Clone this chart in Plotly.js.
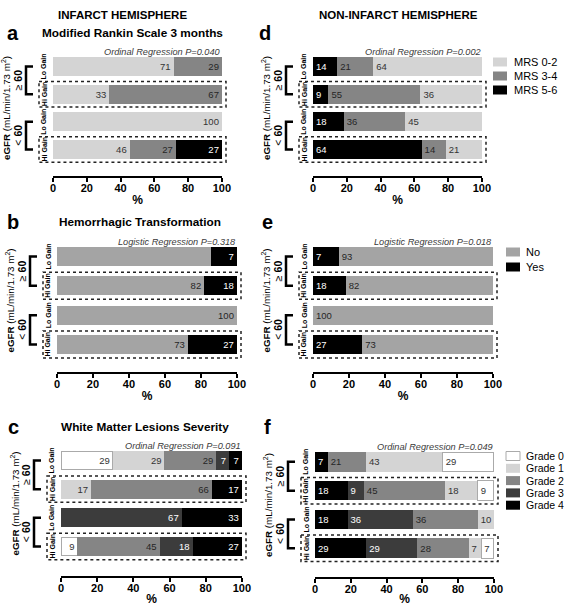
<!DOCTYPE html>
<html><head><meta charset="utf-8">
<script src="https://cdn.plot.ly/plotly-3.0.1.min.js"></script>
<style>html,body{margin:0;padding:0;background:#fff}#chart{width:567px;height:606px}</style>
</head><body><div id="chart"></div>
<script>
// ---------- DATA ----------
const rows = ['Lo Gain ≥60', 'Hi Gain ≥60', 'Lo Gain <60', 'Hi Gain <60'];
const rowTags = ['Lo Gain', 'Hi Gain', 'Lo Gain', 'Hi Gain'];
const groupLabels = ['≥ <b>60</b>', '< <b>60</b>'];
const yTitle = '<b>eGFR</b> (mL/min/1.73 m<sup>2</sup>)';
const xTicks = [0, 20, 40, 60, 80, 100];
const headers = ['INFARCT HEMISPHERE', 'NON-INFARCT HEMISPHERE'];

const mrsNames = ['MRS 0-2', 'MRS 3-4', 'MRS 5-6'];
const htNames = ['No', 'Yes'];
const wmlNames = ['Grade 0', 'Grade 1', 'Grade 2', 'Grade 3', 'Grade 4'];

// segment widths (%) per series, rows top -> bottom
const aValues = [[71.4, 33.3, 100, 45.4], [28.6, 66.7, 0, 27.3], [0, 0, 0, 27.3]];
const aLabels = [['71', '33', '100', '46'], ['29', '67', '', '27'], ['', '', '', '27']];
const dValues = [[64.3, 36.4, 45.4, 21.4], [21.4, 54.5, 36.4, 14.3], [14.3, 9.1, 18.2, 64.3]];
const dLabels = [['64', '36', '45', '21'], ['21', '55', '36', '14'], ['14', '9', '18', '64']];

const bValues = [[85.7, 81.8, 100, 72.7], [14.3, 18.2, 0, 27.3]];
const bLabels = [['', '82', '100', '73'], ['7', '18', '', '27']];
const eValues = [[85.7, 81.8, 100, 72.7], [14.3, 18.2, 0, 27.3]];
const eLabels = [['93', '82', '100', '73'], ['7', '18', '', '27']];

const cValues = [[28.6, 0, 0, 9.1], [28.6, 16.6, 0, 0], [28.6, 66.7, 0, 45.4], [7.1, 0, 66.7, 18.2], [7.1, 16.7, 33.3, 27.3]];
const cLabels = [['29', '', '', '9'], ['29', '17', '', ''], ['29', '66', '', '45'], ['7', '', '67', '18'], ['7', '17', '33', '27']];
const fValues = [[28.6, 9.1, 0, 7.1], [42.9, 18.2, 9.0, 7.1], [21.4, 45.4, 36.4, 28.6], [0, 9.1, 36.4, 28.6], [7.1, 18.2, 18.2, 28.6]];
const fLabels = [['29', '9', '', '7'], ['43', '18', '10', '7'], ['21', '45', '36', '28'], ['', '9', '36', '29'], ['7', '18', '18', '29']];

const panelTitles = ['Modified Rankin Scale 3 months', 'Hemorrhagic Transformation', 'White Matter Lesions Severity'];
const statTexts = ['Ordinal Regression P=0.040', 'Ordinal Regression P=0.002',
                   'Logistic Regression P=0.318', 'Logistic Regression P=0.018',
                   'Ordinal Regression P=0.091', 'Ordinal Regression P=0.049'];

// ---------- STYLE ----------
const FONT = 'Arial, "Liberation Sans", Helvetica, sans-serif';
const mrsColors = ['#d4d4d4', '#858585', '#000000'];
const mrsText = ['#333333', '#262626', '#ffffff'];
const htColors = ['#a4a4a4', '#000000'];
const htText = ['#262626', '#ffffff'];
const wmlColors = ['#ffffff', '#d4d4d4', '#858585', '#3c3c3c', '#000000'];
const wmlText = ['#333333', '#333333', '#262626', '#ffffff', '#ffffff'];

const W = 567, H = 606;
const P = x => x / W, Q = y => 1 - y / H;

const panels = [
  {k: 'a', ax: '',  x0: 53,  x1: 222, yt: 52.7,  yb: 163.3, axY: 177, bw: 0.69, names: mrsNames, colors: mrsColors, tc: mrsText, vals: aValues, labs: aLabels, rev: false, title: 0, stat: 0, letterX: 13, row: 0},
  {k: 'd', ax: '2', x0: 313, x1: 482, yt: 52.7,  yb: 163.3, axY: 177, bw: 0.69, names: mrsNames, colors: mrsColors, tc: mrsText, vals: dValues, labs: dLabels, rev: true, title: -1, stat: 1, letterX: 265, row: 0},
  {k: 'b', ax: '3', x0: 57,  x1: 237, yt: 241.8, yb: 359.2, axY: 373, bw: 0.65, names: htNames, colors: htColors, tc: htText, vals: bValues, labs: bLabels, rev: false, title: 1, stat: 2, letterX: 13, row: 1},
  {k: 'e', ax: '4', x0: 313, x1: 493, yt: 241.8, yb: 359.2, axY: 373, bw: 0.65, names: htNames, colors: htColors, tc: htText, vals: eValues, labs: eLabels, rev: true, title: -1, stat: 3, letterX: 267, row: 1},
  {k: 'c', ax: '5', x0: 61,  x1: 242, yt: 446.2, yb: 560.8, axY: 577, bw: 0.66, names: wmlNames, colors: wmlColors, tc: wmlText, vals: cValues, labs: cLabels, rev: false, title: 2, stat: 4, letterX: 13, row: 2},
  {k: 'f', ax: '6', x0: 315, x1: 494, yt: 447.4, yb: 562.7, axY: 578, bw: 0.68, names: wmlNames, colors: wmlColors, tc: wmlText, vals: fValues, labs: fLabels, rev: true, title: -1, stat: 5, letterX: 267, row: 2}
];
const titleCenters = [[132, 33], [140, 222], [145, 427]];

const traces = [], shapes = [], annotations = [];
const layout = {
  width: W, height: H, margin: {l: 0, r: 0, t: 0, b: 0},
  paper_bgcolor: '#fff', plot_bgcolor: 'rgba(0,0,0,0)',
  barmode: 'stack', showlegend: false, font: {family: FONT, color: '#000'}
};

panels.forEach(p => {
  const xa = 'x' + p.ax, ya = 'y' + p.ax;
  const order = p.names.map((_, i) => i);
  if (p.rev) order.reverse();
  order.forEach(i => {
    const white = p.colors[i] === '#ffffff';
    // keep only the non-empty segments of this series
    const keep = p.vals[i].map((v, j) => v > 0 ? j : -1).filter(j => j >= 0);
    traces.push({
      type: 'bar', orientation: 'h', name: p.names[i],
      x: keep.map(j => p.vals[i][j]), y: keep.map(j => rows[j]), text: keep.map(j => p.labs[i][j] || ' '),
      textposition: 'inside', insidetextanchor: p.rev ? 'start' : 'end',
      textangle: 0, constraintext: 'none',
      textfont: {family: FONT, size: 9.5, color: p.tc[i]},
      marker: {color: p.colors[i], line: {color: white ? '#aaaaaa' : p.colors[i], width: white ? 1 : 0}},
      width: p.bw, xaxis: xa, yaxis: ya, hoverinfo: 'skip', cliponaxis: false
    });
  });
  layout['xaxis' + p.ax] = {
    domain: [P(p.x0), P(p.x1)], anchor: 'free', position: Q(p.axY),
    range: [0, 100.05], tickvals: xTicks, ticks: 'outside', ticklen: 4, tickwidth: 2, tickcolor: '#000',
    ticklabelstandoff: -3,
    showline: true, linewidth: 2, linecolor: '#000', showgrid: false, zeroline: false,
    tickfont: {family: FONT, size: 11, weight: 'bold', color: '#000'},
    title: {text: '%', font: {family: FONT, size: 12, weight: 'bold', color: '#000'}, standoff: 1},
    fixedrange: true
  };
  layout['yaxis' + p.ax] = {
    domain: [Q(p.yb), Q(p.yt)], anchor: xa, type: 'category', categoryorder: 'array', categoryarray: rows,
    range: [3.5, -0.5], showticklabels: false, ticks: '', showline: false, showgrid: false, zeroline: false, fixedrange: true
  };
  const sp = (p.yb - p.yt) / 4;
  const yc = i => p.yt + (i + 0.5) * sp;
  const barTop = yc(0) - p.bw * sp / 2;
  annotations.push({text: '<b>' + p.k + '</b>', x: P(p.letterX), y: Q(titleCenters[p.row][1]), xref: 'paper', yref: 'paper', xanchor: 'center', yanchor: 'middle', showarrow: false, font: {family: FONT, size: 20, color: '#000'}});
  if (p.title >= 0) {
    const tc = titleCenters[p.title];
    annotations.push({text: '<b>' + panelTitles[p.title] + '</b>', x: P(tc[0]), y: Q(tc[1]), xref: 'paper', yref: 'paper', xanchor: 'center', yanchor: 'middle', showarrow: false, font: {family: FONT, size: 11.8, color: '#000'}});
  }
  annotations.push({text: '<i>' + statTexts[p.stat] + '</i>', x: P(p.x1 + 1), y: Q(barTop - 5), xref: 'paper', yref: 'paper', xanchor: 'right', yanchor: 'middle', showarrow: false, font: {family: FONT, size: 9.2, color: '#3a3a3a'}});
  rowTags.forEach((t, i) => {
    annotations.push({text: '<b>' + t + '</b>', x: P(p.x0 - 9), y: Q(yc(i)), xref: 'paper', yref: 'paper', xanchor: 'center', yanchor: 'middle', textangle: -90, showarrow: false, font: {family: FONT, size: 7, color: '#000'}});
  });
  [0, 1].forEach(g => {
    const y1 = yc(2 * g), y2 = yc(2 * g + 1);
    shapes.push({type: 'path', xref: 'paper', yref: 'paper',
      path: `M${P(p.x0 - 20)},${Q(y1)} L${P(p.x0 - 27)},${Q(y1)} L${P(p.x0 - 27)},${Q(y2)} L${P(p.x0 - 20)},${Q(y2)}`,
      line: {color: '#000', width: 2.5}});
    annotations.push({text: groupLabels[g], x: P(p.x0 - 35), y: Q((y1 + y2) / 2), xref: 'paper', yref: 'paper', xanchor: 'center', yanchor: 'middle', textangle: -90, showarrow: false, font: {family: FONT, size: 10.5, color: '#000'}});
    const hi = 2 * g + 1;
    shapes.push({type: 'rect', xref: 'paper', yref: 'paper',
      x0: P(p.x0 - 14), x1: P(p.x1 + 4), y0: Q(yc(hi) - 0.46 * sp), y1: Q(yc(hi) + 0.46 * sp),
      line: {color: '#222', width: 1.5, dash: 'dot'}, fillcolor: 'rgba(0,0,0,0)'});
  });
  annotations.push({text: yTitle, x: P(p.x0 - 47), y: Q((p.yt + p.yb) / 2), xref: 'paper', yref: 'paper', xanchor: 'center', yanchor: 'middle', textangle: -90, showarrow: false, font: {family: FONT, size: 9.8, color: '#000'}});
});

annotations.push({text: '<b>' + headers[0] + '</b>', x: P(122), y: Q(15), xref: 'paper', yref: 'paper', xanchor: 'center', yanchor: 'middle', showarrow: false, font: {family: FONT, size: 11.5, color: '#000'}});
annotations.push({text: '<b>' + headers[1] + '</b>', x: P(398), y: Q(15), xref: 'paper', yref: 'paper', xanchor: 'center', yanchor: 'middle', showarrow: false, font: {family: FONT, size: 11.5, color: '#000'}});

function legend(names, colors, sx, tx, y0, dy, fs) {
  names.forEach((n, i) => {
    const y = y0 + i * dy;
    const white = colors[i] === '#ffffff';
    shapes.push({type: 'rect', xref: 'paper', yref: 'paper', x0: P(sx), x1: P(sx + 14), y0: Q(y - 4.5), y1: Q(y + 4.5),
      fillcolor: colors[i], line: {color: white ? '#aaaaaa' : colors[i], width: white ? 1 : 0}});
    annotations.push({text: n, x: P(tx), y: Q(y), xref: 'paper', yref: 'paper', xanchor: 'left', yanchor: 'middle', showarrow: false, font: {family: FONT, size: fs, color: '#000'}});
  });
}
legend(mrsNames, mrsColors, 493, 512, 62, 14, 11);
legend(htNames, htColors, 506, 524, 252, 15, 11);
legend(wmlNames, wmlColors, 506, 524, 456, 12.3, 10.5);

layout.shapes = shapes;
layout.annotations = annotations;
Plotly.newPlot('chart', traces, layout, {staticPlot: true, displayModeBar: false});
</script></body></html>
